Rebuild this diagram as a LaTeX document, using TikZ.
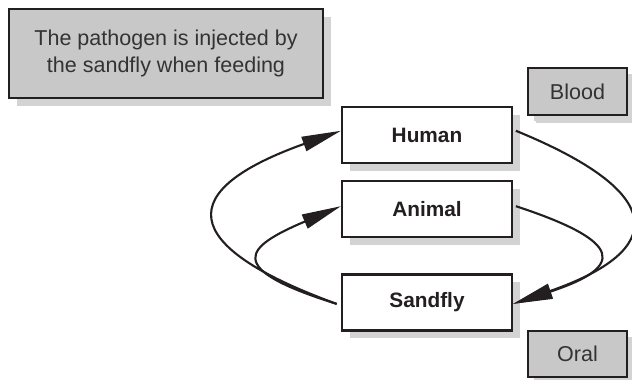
\documentclass[tikz,border=0pt]{standalone}
\usepackage{fontspec}
\setsansfont{Liberation Sans}
\usepackage{xcolor}
\usepackage{tikz}
\usetikzlibrary{arrows.meta, shadows}
\definecolor{boxgray}{HTML}{C8C8C8}
\definecolor{shadegray}{HTML}{D3D3D3}
\definecolor{inkdark}{HTML}{231F20}
\definecolor{textdark}{HTML}{333333}
\tikzset{
  basebox/.style={draw=inkdark, line width=1.5pt, inner sep=0pt, align=center,
    font=\sffamily\fontsize{15.3}{18.8}\selectfont,
    general shadow={fill=shadegray, shadow xshift=5.5pt, shadow yshift=-5.5pt}},
  notebox/.style={basebox, fill=boxgray, text=textdark, minimum width=7.85cm, minimum height=2.22cm},
  routebox/.style={basebox, fill=boxgray, text=textdark, minimum width=2.47cm, minimum height=1.17cm,
    general shadow={fill=shadegray, shadow xshift=4.5pt, shadow yshift=-4.5pt}},
  hostbox/.style={basebox, fill=white, text=inkdark, minimum width=4.25cm, minimum height=1.4cm,
    font=\sffamily\bfseries\fontsize{14.8}{18}\selectfont},
  cycle/.style={-{Triangle[length=28pt, width=10.5pt]}, line width=1.5pt, inkdark}
}

\begin{document}
\begin{tikzpicture}[x=0.025cm, y=-0.025cm]
\useasboundingbox (0,0) rectangle (632,380);

% ===== LABEL BOXES =====
\node[notebox]  (NOTE)  at (166, 53.5)  {The pathogen is injected by\\the sandfly when feeding};
\node[routebox] (BLOOD) at (577.5, 91.5) {Blood};
\node[routebox] (ORAL)  at (577.5, 354)  {Oral};

% ===== HOSTS =====
\node[hostbox] (HUM) at (427, 135)   {Human};
\node[hostbox] (ANI) at (427, 209)   {Animal};
\node[hostbox] (SFL) at (427, 302.5) {Sandfly};

% ===== SANDFLY -> HOSTS =====
\draw[cycle] ([xshift=-3pt, yshift=-1pt]SFL.west) .. controls (175, 245) and (175, 190) .. ([yshift=3pt]HUM.west);
\draw[cycle] ([xshift=-3pt, yshift=-1pt]SFL.west) .. controls (222, 268) and (245, 247) .. ([yshift=2pt]ANI.west);

% ===== HOSTS -> SANDFLY =====
\draw[cycle] ([xshift=2pt, yshift=3pt]HUM.east) .. controls (668, 193) and (668, 250) .. ([yshift=-1pt]SFL.east);
\draw[cycle] ([xshift=2pt, yshift=2pt]ANI.east) .. controls (625, 242) and (625, 267) .. ([yshift=-1pt]SFL.east);

\end{tikzpicture}
\end{document}
